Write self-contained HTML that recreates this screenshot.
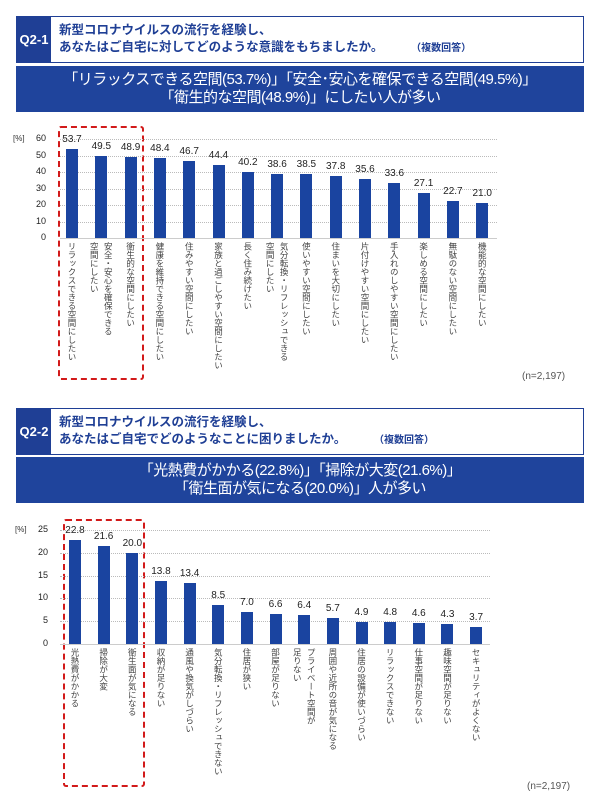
<!DOCTYPE html>
<html><head><meta charset="utf-8">
<style>
body{margin:0;width:600px;height:800px;background:#fff;position:relative;overflow:hidden;font-family:"Liberation Sans","Noto Sans CJK JP",sans-serif;}
.a{position:absolute;}
.hdr{position:absolute;left:16px;width:566px;height:45px;border:1px solid #1f3f95;background:#fff;}
.q{position:absolute;left:0;top:0;width:34px;height:45px;background:#1f3f95;color:#fff;font-weight:bold;font-size:13px;line-height:45px;text-align:center;}
.ht{position:absolute;left:42px;top:5px;font-size:12.5px;line-height:17px;color:#1f3f95;font-weight:bold;}
.ban{position:absolute;left:16px;width:568px;height:46px;background:#1f449c;color:#fff;text-align:center;font-size:15px;line-height:18px;padding-top:5px;box-sizing:border-box;letter-spacing:-0.5px;}
.bar{position:absolute;background:#1a44a0;width:12px;}
.v{position:absolute;font-size:10px;color:#222;width:40px;text-align:center;}
.t{position:absolute;font-size:9px;color:#222;text-align:right;width:20px;}
.g{position:absolute;height:0;border-top:1px dotted #bbb;}
.lab{position:absolute;writing-mode:vertical-rl;font-size:8.5px;color:#444;line-height:14px;}
.red{position:absolute;border:2.5px dashed #d21a1a;border-radius:3px;}
.n{position:absolute;font-size:10px;color:#555;}
</style></head><body>
<div class="hdr" style="top:16px"><div class="q">Q2-1</div><div class="ht">新型コロナウイルスの流行を経験し、<br>あなたはご自宅に対してどのような意識をもちましたか。&nbsp;&nbsp;&nbsp;&nbsp;&nbsp;&nbsp;&nbsp;&nbsp;<span style="font-size:10px">（複数回答）</span></div></div>
<div class="ban" style="top:66px">「リラックスできる空間(53.7%)」「安全･安心を確保できる空間(49.5%)」<br>「衛生的な空間(48.9%)」にしたい人が多い</div>
<div class="hdr" style="top:408px"><div class="q">Q2-2</div><div class="ht">新型コロナウイルスの流行を経験し、<br>あなたはご自宅でどのようなことに困りましたか。&nbsp;&nbsp;&nbsp;&nbsp;&nbsp;&nbsp;&nbsp;&nbsp;<span style="font-size:10px">（複数回答）</span></div></div>
<div class="ban" style="top:457px">「光熱費がかかる(22.8%)」「掃除が大変(21.6%)」<br>「衛生面が気になる(20.0%)」人が多い</div>
<div class="red" style="left:58px;top:126px;width:82px;height:250px"></div>
<div class="red" style="left:63px;top:519px;width:78px;height:264px"></div>
<div class="n" style="left:522px;top:371px">(n=2,197)</div>
<div class="n" style="left:527px;top:781px">(n=2,197)</div>
<div id="c"></div>
<script>
var c=document.getElementById('c'),h='';
function chart(o){
  h+='<div class="a" style="left:'+(o.ax-13)+'px;top:'+(o.y0-o.max*o.s-5)+'px;font-size:8px;color:#333">[%]</div>';
  for(var t=0;t<=o.max;t+=o.step){var y=o.y0-t*o.s;
    h+='<div class="t" style="left:'+(o.ax)+'px;top:'+(y-6)+'px">'+t+'</div>';
    h+='<div class="g" style="left:60px;width:'+(o.gr-60)+'px;top:'+y+'px;'+(t==0?'border-top:1px solid #ccc':'')+'"></div>';}
  o.d.forEach(function(d,i){var x=o.x0+i*o.dx,bh=d[0]*o.s;
    h+='<div class="bar" style="left:'+(x-6)+'px;top:'+(o.y0-bh)+'px;height:'+bh+'px"></div>';
    h+='<div class="v" style="left:'+(x-20)+'px;top:'+(o.y0-bh-15)+'px">'+d[0].toFixed(1)+'</div>';
    var cols=d[1].split('|').length;
    h+='<div class="lab" style="left:'+(x-cols*7)+'px;top:'+(o.y0+4)+'px">'+d[1].replace('|','<br>')+'</div>';});
}
chart({y0:238,s:1.65,max:60,step:10,ax:26,gr:497,x0:72,dx:29.3,d:[[53.7,'リラックスできる空間にしたい'],[49.5,'安全・安心を確保できる|空間にしたい'],[48.9,'衛生的な空間にしたい'],[48.4,'健康を維持できる空間にしたい'],[46.7,'住みやすい空間にしたい'],[44.4,'家族と過ごしやすい空間にしたい'],[40.2,'長く住み続けたい'],[38.6,'気分転換・リフレッシュできる|空間にしたい'],[38.5,'使いやすい空間にしたい'],[37.8,'住まいを大切にしたい'],[35.6,'片付けやすい空間にしたい'],[33.6,'手入れのしやすい空間にしたい'],[27.1,'楽しめる空間にしたい'],[22.7,'無駄のない空間にしたい'],[21.0,'機能的な空間にしたい']]});
chart({y0:644,s:4.56,max:25,step:5,ax:28,gr:490,x0:75,dx:28.65,d:[[22.8,'光熱費がかかる'],[21.6,'掃除が大変'],[20.0,'衛生面が気になる'],[13.8,'収納が足りない'],[13.4,'通風や換気がしづらい'],[8.5,'気分転換・リフレッシュできない'],[7.0,'住居が狭い'],[6.6,'部屋が足りない'],[6.4,'プライベート空間が|足りない'],[5.7,'周囲や近所の音が気になる'],[4.9,'住居の設備が使いづらい'],[4.8,'リラックスできない'],[4.6,'仕事空間が足りない'],[4.3,'趣味空間が足りない'],[3.7,'セキュリティがよくない']]});
c.innerHTML=h;
</script>
</body></html>
